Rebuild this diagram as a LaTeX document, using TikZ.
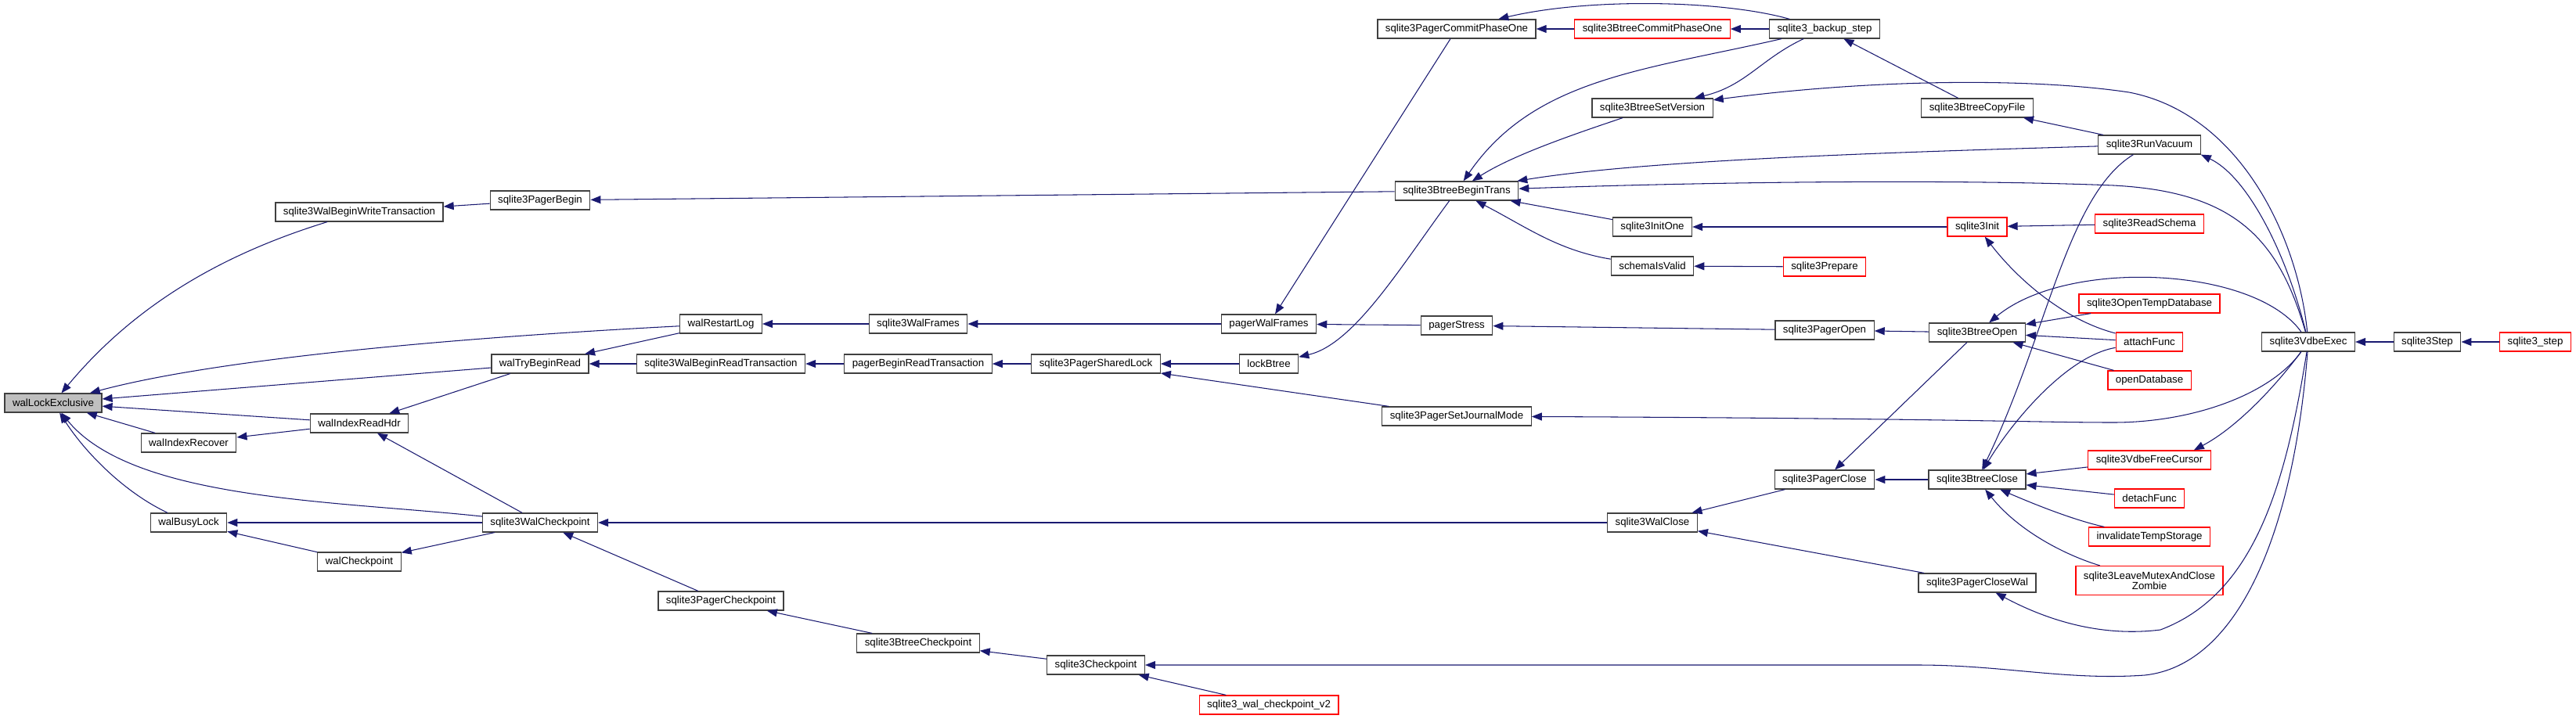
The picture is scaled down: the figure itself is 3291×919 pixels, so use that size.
\documentclass[tikz,border=0pt]{standalone}
\usepackage{fontspec}
\setmainfont{Liberation Sans}
\usepackage{xcolor}
\usepackage{tikz}
\usetikzlibrary{arrows.meta,calc}

\definecolor{edgeblue}{RGB}{25,25,112}

\begin{document}
\begin{tikzpicture}[x=0.02cm, y=-0.02cm,
    func/.style={rectangle, draw=black!75, line width=0.7pt, fill=white, font=\fontsize{7.55}{7.6}\selectfont, inner xsep=0.2cm, inner ysep=0pt, minimum height=0.48cm},
    undoc/.style={func, draw=red},
    current/.style={func, fill=black!25},
    arrow/.style={draw=edgeblue, line width=0.6pt, -{Triangle[length=0.26cm, width=0.2cm]}, color=edgeblue}
]
    \useasboundingbox (0,0) rectangle (3291,919);

    % Function under study
    \node[current] (wal_lock) at (68,515) {walLockExclusive};

    % Direct callers
    \node[func] (index_recover) at (241,566) {walIndexRecover};
    \node[func] (busy_lock) at (241,668) {walBusyLock};
    \node[func] (begin_write) at (459,271) {sqlite3WalBeginWriteTransaction};
    \node[func] (read_hdr) at (459,541) {walIndexReadHdr};
    \node[func] (wal_ckpt) at (459,718) {walCheckpoint};

    % Wal layer
    \node[func] (pager_begin) at (690,256) {sqlite3PagerBegin};
    \node[func] (try_read) at (690,465) {walTryBeginRead};
    \node[func] (wal_checkpoint) at (690,668) {sqlite3WalCheckpoint};
    \node[func] (restart_log) at (921,414) {walRestartLog};
    \node[func] (begin_read) at (921,465) {sqlite3WalBeginReadTransaction};
    \node[func] (pager_ckpt) at (921,768) {sqlite3PagerCheckpoint};

    % Pager layer
    \node[func] (wal_frames) at (1173,414) {sqlite3WalFrames};
    \node[func] (pager_read) at (1173,465) {pagerBeginReadTransaction};
    \node[func] (btree_ckpt) at (1173,822) {sqlite3BtreeCheckpoint};
    \node[func] (shared_lock) at (1400,465) {sqlite3PagerSharedLock};
    \node[func] (checkpoint) at (1400,850) {sqlite3Checkpoint};
    \node[func] (pager_frames) at (1621,414) {pagerWalFrames};
    \node[func] (lock_btree) at (1621,465) {lockBtree};
    \node[undoc] (ckpt_v2) at (1621,901) {sqlite3\_wal\_checkpoint\_v2};

    % Btree layer
    \node[func] (commit_one) at (1861,37) {sqlite3PagerCommitPhaseOne};
    \node[func] (begin_trans) at (1861,244) {sqlite3BtreeBeginTrans};
    \node[func] (pager_stress) at (1861,416) {pagerStress};
    \node[func] (journal_mode) at (1861,532) {sqlite3PagerSetJournalMode};
    \node[undoc] (btree_commit) at (2111,37) {sqlite3BtreeCommitPhaseOne};
    \node[func] (set_version) at (2111,138) {sqlite3BtreeSetVersion};
    \node[func] (init_one) at (2111,290) {sqlite3InitOne};
    \node[func] (schema_valid) at (2111,340) {schemaIsValid};
    \node[func] (wal_close) at (2111,668) {sqlite3WalClose};
    \node[func] (backup_step) at (2331,37) {sqlite3\_backup\_step};
    \node[undoc] (prepare) at (2331,341) {sqlite3Prepare};
    \node[func] (pager_open) at (2331,422) {sqlite3PagerOpen};
    \node[func] (pager_close) at (2331,613) {sqlite3PagerClose};
    \node[func] (copy_file) at (2526,138) {sqlite3BtreeCopyFile};
    \node[undoc] (db_init) at (2526,290) {sqlite3Init};
    \node[func] (btree_open) at (2526,425) {sqlite3BtreeOpen};
    \node[func] (btree_close) at (2526,613) {sqlite3BtreeClose};
    \node[func] (close_wal) at (2526,745) {sqlite3PagerCloseWal};

    % Outer callers
    \node[func] (vacuum) at (2746,185) {sqlite3RunVacuum};
    \node[undoc] (read_schema) at (2746,286) {sqlite3ReadSchema};
    \node[undoc] (temp_db) at (2746,388) {sqlite3OpenTempDatabase};
    \node[undoc] (attach) at (2746,437) {attachFunc};
    \node[undoc] (open_db) at (2746,486) {openDatabase};
    \node[undoc] (free_cursor) at (2746,588) {sqlite3VdbeFreeCursor};
    \node[undoc] (detach) at (2746,637) {detachFunc};
    \node[undoc] (invalidate) at (2746,686) {invalidateTempStorage};
    \node[undoc, align=center, minimum height=0.74cm] (zombie) at (2746,742) {sqlite3LeaveMutexAndClose\\Zombie};
    \node[func] (vdbe_exec) at (2949,437) {sqlite3VdbeExec};
    \node[func] (vdbe_step) at (3101,437) {sqlite3Step};
    \node[undoc] (api_step) at (3239,437) {sqlite3\_step};

    % Connections into walLockExclusive
    \draw [arrow] (begin_write) .. controls (300,320) and (180,380) .. (wal_lock);
    \draw [arrow] (restart_log) .. controls (500,436) and (250,466) .. (wal_lock);
    \path [arrow] (try_read) -- (wal_lock);
    \path [arrow] (read_hdr) -- (wal_lock);
    \path [arrow] (index_recover) -- (wal_lock);
    \draw [arrow] (wal_checkpoint) .. controls (430,640) and (170,640) .. (wal_lock);
    \draw [arrow] (busy_lock) .. controls (160,630) and (110,580) .. (wal_lock);

    % Wal layer connections
    \path [arrow] (read_hdr) -- (index_recover);
    \path [arrow] (try_read) -- (read_hdr);
    \path [arrow] (wal_checkpoint) -- (read_hdr);
    \path [arrow] (wal_checkpoint) -- (busy_lock);
    \path [arrow] (wal_ckpt) -- (busy_lock);
    \path [arrow] (wal_checkpoint) -- (wal_ckpt);
    \path [arrow] (pager_begin) -- (begin_write);
    \path [arrow] (restart_log) -- (try_read);
    \path [arrow] (begin_read) -- (try_read);
    \path [arrow] (wal_frames) -- (restart_log);
    \path [arrow] (pager_read) -- (begin_read);
    \path [arrow] (pager_ckpt) -- (wal_checkpoint);
    \path [arrow] (wal_close) -- (wal_checkpoint);

    % Pager layer connections
    \path [arrow] (pager_frames) -- (wal_frames);
    \path [arrow] (shared_lock) -- (pager_read);
    \path [arrow] (lock_btree) -- (shared_lock);
    \path [arrow] (journal_mode) -- (shared_lock);
    \path [arrow] (btree_ckpt) -- (pager_ckpt);
    \path [arrow] (checkpoint) -- (btree_ckpt);
    \path [arrow] (ckpt_v2) -- (checkpoint);
    \path [arrow] (commit_one) -- (pager_frames);
    \path [arrow] (pager_stress) -- (pager_frames);
    \path [arrow] (begin_trans) -- (pager_begin);
    \draw [arrow] (begin_trans) .. controls (1790,340) and (1730,440) .. (lock_btree);

    % Btree layer connections
    \path [arrow] (btree_commit) -- (commit_one);
    \path [arrow] (backup_step) -- (btree_commit);
    \draw [arrow] (backup_step) .. controls (2200,0) and (2030,-3) .. (commit_one);
    \draw [arrow] (backup_step) .. controls (2100,90) and (1960,100) .. (begin_trans);
    \draw [arrow] (backup_step) .. controls (2250,75) and (2230,110) .. (set_version);
    \draw [arrow] (set_version) .. controls (2000,175) and (1930,200) .. (begin_trans);
    \path [arrow] (init_one) -- (begin_trans);
    \draw [arrow] (schema_valid) .. controls (1990,320) and (1950,290) .. (begin_trans);
    \path [arrow] (copy_file) -- (backup_step);
    \path [arrow] (db_init) -- (init_one);
    \path [arrow] (prepare) -- (schema_valid);
    \path [arrow] (pager_open) -- (pager_stress);
    \path [arrow] (btree_open) -- (pager_open);
    \path [arrow] (btree_open) -- (pager_close);
    \path [arrow] (btree_close) -- (pager_close);
    \path [arrow] (pager_close) -- (wal_close);
    \path [arrow] (close_wal) -- (wal_close);

    % Outer callers
    \path [arrow] (vacuum) -- (copy_file);
    \draw [arrow] (vacuum) .. controls (2400,195) and (2100,205) .. (begin_trans);
    \draw [arrow] (vacuum) .. controls (2640,250) and (2615,430) .. (btree_close);
    \path [arrow] (read_schema) -- (db_init);
    \draw [arrow] (attach) .. controls (2640,410) and (2580,360) .. (db_init);
    \path [arrow] (temp_db) -- (btree_open);
    \path [arrow] (attach) -- (btree_open);
    \path [arrow] (open_db) -- (btree_open);
    \draw [arrow] (attach) .. controls (2640,455) and (2570,540) .. (btree_close);
    \path [arrow] (free_cursor) -- (btree_close);
    \path [arrow] (detach) -- (btree_close);
    \draw [arrow] (invalidate) .. controls (2650,665) and (2600,645) .. (btree_close);
    \draw [arrow] (zombie) .. controls (2640,710) and (2580,680) .. (btree_close);

    % sqlite3VdbeExec fan-out
    \draw [arrow] (vdbe_exec) .. controls (2935,300) and (2860,145) .. (2720,118) .. controls (2600,100) and (2400,100) .. (set_version);
    \draw [arrow] (vdbe_exec) .. controls (2920,320) and (2870,225) .. (vacuum.south east);
    \draw [arrow] (vdbe_exec) .. controls (2910,300) and (2850,245) .. (2700,237) .. controls (2500,229) and (2200,232) .. (begin_trans);
    \draw [arrow] (vdbe_exec) .. controls (2880,340) and (2640,330) .. (btree_open);
    \draw [arrow] (vdbe_exec) .. controls (2910,490) and (2860,545) .. ($(free_cursor.north east)+(-22,0)$);
    \draw [arrow] (vdbe_exec) .. controls (2900,505) and (2800,540) .. (2700,540) .. controls (2600,540) and (2500,535) .. (journal_mode);
    \draw [arrow] (vdbe_exec) .. controls (2920,620) and (2880,760) .. (2760,805) .. controls (2680,815) and (2610,790) .. (close_wal);
    \draw [arrow] (vdbe_exec) .. controls (2930,680) and (2860,850) .. (2740,863) .. controls (2640,870) and (2560,850) .. (2450,850) -- (checkpoint);
    \path [arrow] (vdbe_step) -- (vdbe_exec);
    \path [arrow] (api_step) -- (vdbe_step);

\end{tikzpicture}
\end{document}
